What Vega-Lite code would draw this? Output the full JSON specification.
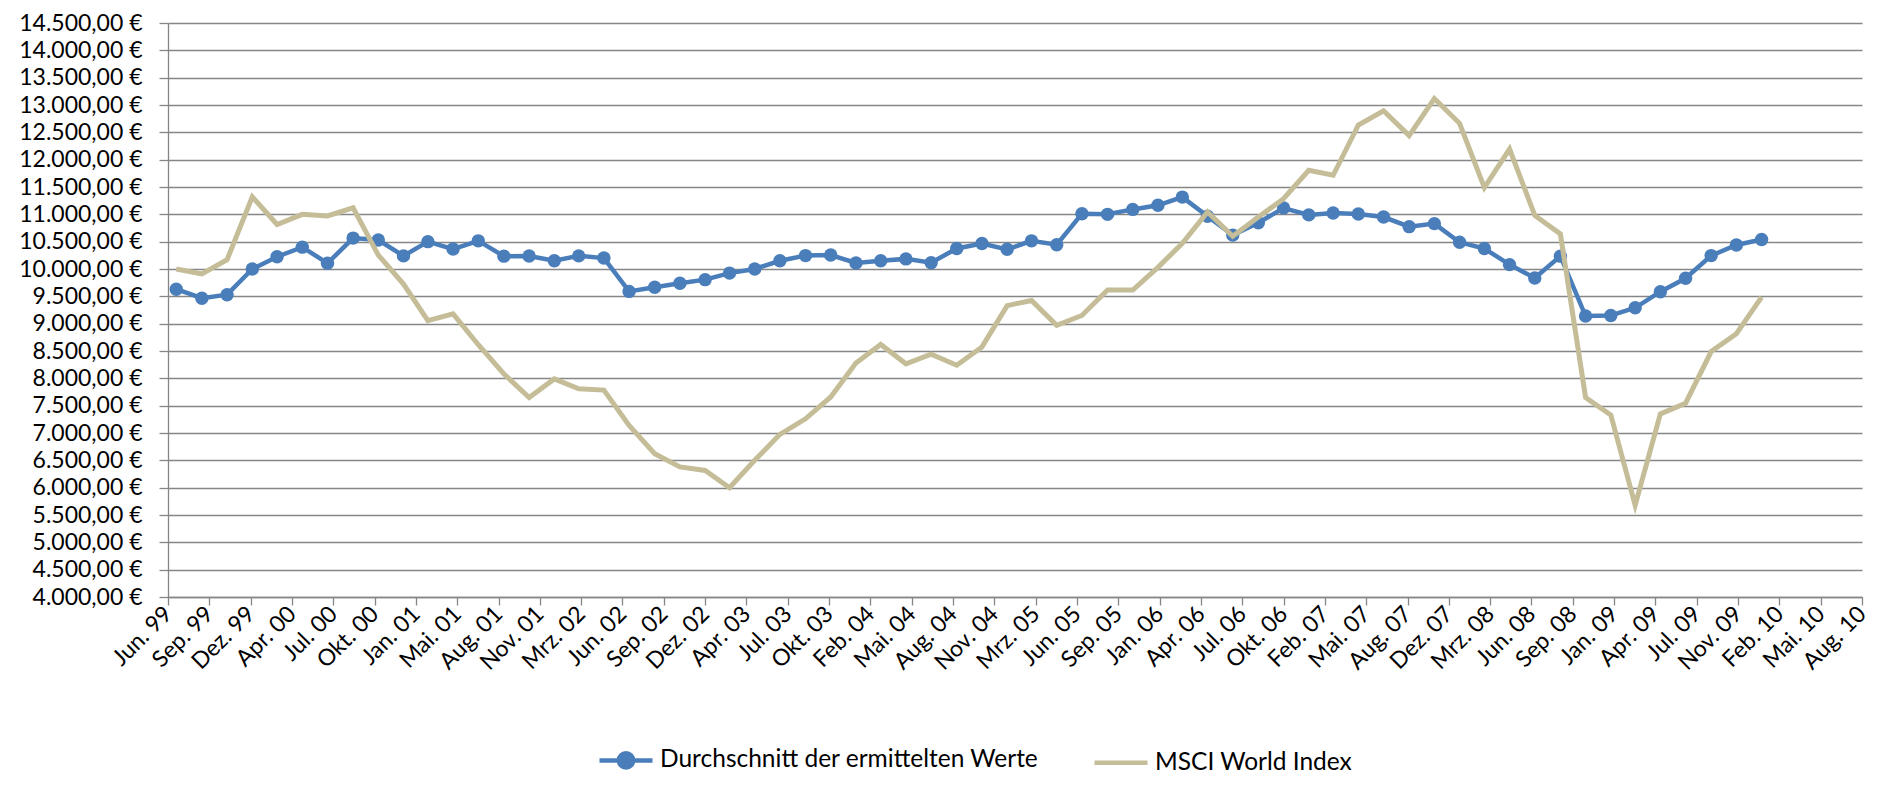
{
  "$schema": "https://vega.github.io/schema/vega-lite/v6.json",
  "width": 1694,
  "height": 574,
  "autosize": {"type": "none"},
  "padding": {"left": 168, "top": 23, "right": 15, "bottom": 197},
  "background": "white",
  "config": {
    "locale": {
      "number": {"decimal": ",", "thousands": ".", "grouping": [3], "currency": ["", " €"]},
      "time": {
        "dateTime": "%A, der %e. %B %Y, %X",
        "date": "%d.%m.%Y",
        "time": "%H:%M:%S",
        "periods": ["AM", "PM"],
        "days": ["Sonntag", "Montag", "Dienstag", "Mittwoch", "Donnerstag", "Freitag", "Samstag"],
        "shortDays": ["So", "Mo", "Di", "Mi", "Do", "Fr", "Sa"],
        "months": ["Januar", "Februar", "März", "April", "Mai", "Juni", "Juli", "August", "September", "Oktober", "November", "Dezember"],
        "shortMonths": ["Jan", "Feb", "Mrz", "Apr", "Mai", "Jun", "Jul", "Aug", "Sep", "Okt", "Nov", "Dez"]
      }
    },
    "view": {"stroke": null},
    "font": "Lato",
    "axis": {
      "labelFont": "Lato",
      "labelFontSize": 23,
      "labelColor": "#000000",
      "domainColor": "#868686",
      "tickColor": "#868686",
      "gridColor": "#868686",
      "domainWidth": 1.3,
      "tickWidth": 1.3,
      "gridWidth": 1.3,
      "labelOverlap": false,
      "labelFlush": false,
      "labelBound": false,
      "title": null
    },
    "axisY": {
      "values": [4000, 4500, 5000, 5500, 6000, 6500, 7000, 7500, 8000, 8500, 9000, 9500, 10000, 10500, 11000, 11500, 12000, 12500, 13000, 13500, 14000, 14500],
      "format": "$,.2f",
      "tickSize": 9,
      "labelPadding": 17,
      "labelOverlap": false,
      "grid": true
    }
  },
  "data": {
    "values": [
      {"d": "1999-06-30", "avg": 9630, "msci": 10000},
      {"d": "1999-08-31", "avg": 9465, "msci": 9910},
      {"d": "1999-10-31", "avg": 9530, "msci": 10170},
      {"d": "1999-12-31", "avg": 10000, "msci": 11320},
      {"d": "2000-02-29", "avg": 10225, "msci": 10815},
      {"d": "2000-04-30", "avg": 10400, "msci": 11000},
      {"d": "2000-06-30", "avg": 10105, "msci": 10970},
      {"d": "2000-08-31", "avg": 10565, "msci": 11120},
      {"d": "2000-10-31", "avg": 10530, "msci": 10255},
      {"d": "2000-12-31", "avg": 10240, "msci": 9725},
      {"d": "2001-02-28", "avg": 10500, "msci": 9055},
      {"d": "2001-04-30", "avg": 10365, "msci": 9180},
      {"d": "2001-06-30", "avg": 10515, "msci": 8615},
      {"d": "2001-08-31", "avg": 10235, "msci": 8080},
      {"d": "2001-10-31", "avg": 10238, "msci": 7650},
      {"d": "2001-12-31", "avg": 10150, "msci": 7990},
      {"d": "2002-02-28", "avg": 10240, "msci": 7810},
      {"d": "2002-04-30", "avg": 10200, "msci": 7785},
      {"d": "2002-06-30", "avg": 9590, "msci": 7140},
      {"d": "2002-08-31", "avg": 9665, "msci": 6620},
      {"d": "2002-10-31", "avg": 9740, "msci": 6380},
      {"d": "2002-12-31", "avg": 9805, "msci": 6315},
      {"d": "2003-02-28", "avg": 9925, "msci": 6000},
      {"d": "2003-04-30", "avg": 10000, "msci": 6500},
      {"d": "2003-06-30", "avg": 10150, "msci": 6975},
      {"d": "2003-08-31", "avg": 10245, "msci": 7260},
      {"d": "2003-10-31", "avg": 10255, "msci": 7660},
      {"d": "2003-12-31", "avg": 10110, "msci": 8280},
      {"d": "2004-02-29", "avg": 10150, "msci": 8620},
      {"d": "2004-04-30", "avg": 10185, "msci": 8265},
      {"d": "2004-06-30", "avg": 10115, "msci": 8440},
      {"d": "2004-08-31", "avg": 10375, "msci": 8240},
      {"d": "2004-10-31", "avg": 10465, "msci": 8575},
      {"d": "2004-12-31", "avg": 10360, "msci": 9330},
      {"d": "2005-02-28", "avg": 10515, "msci": 9425},
      {"d": "2005-04-30", "avg": 10445, "msci": 8970},
      {"d": "2005-06-30", "avg": 11010, "msci": 9150},
      {"d": "2005-08-31", "avg": 11000, "msci": 9615},
      {"d": "2005-10-31", "avg": 11090, "msci": 9615},
      {"d": "2005-12-31", "avg": 11165, "msci": 10030},
      {"d": "2006-02-28", "avg": 11315, "msci": 10470},
      {"d": "2006-04-30", "avg": 10965, "msci": 11045},
      {"d": "2006-06-30", "avg": 10620, "msci": 10600},
      {"d": "2006-08-31", "avg": 10845, "msci": 10950},
      {"d": "2006-10-31", "avg": 11115, "msci": 11285},
      {"d": "2006-12-31", "avg": 10990, "msci": 11805},
      {"d": "2007-02-28", "avg": 11025, "msci": 11715},
      {"d": "2007-04-30", "avg": 11005, "msci": 12635},
      {"d": "2007-06-30", "avg": 10950, "msci": 12895},
      {"d": "2007-08-31", "avg": 10775, "msci": 12440},
      {"d": "2007-10-31", "avg": 10830, "msci": 13115},
      {"d": "2007-12-31", "avg": 10490, "msci": 12665},
      {"d": "2008-02-29", "avg": 10375, "msci": 11490},
      {"d": "2008-04-30", "avg": 10080, "msci": 12195},
      {"d": "2008-06-30", "avg": 9835, "msci": 10980},
      {"d": "2008-08-31", "avg": 10235, "msci": 10640},
      {"d": "2008-10-31", "avg": 9140, "msci": 7650},
      {"d": "2008-12-31", "avg": 9150, "msci": 7330},
      {"d": "2009-02-28", "avg": 9290, "msci": 5680},
      {"d": "2009-04-30", "avg": 9585, "msci": 7350},
      {"d": "2009-06-30", "avg": 9830, "msci": 7545},
      {"d": "2009-08-31", "avg": 10245, "msci": 8490},
      {"d": "2009-10-31", "avg": 10440, "msci": 8815},
      {"d": "2009-12-31", "avg": 10540, "msci": 9485}
    ]
  },
  "encoding": {
    "x": {
      "field": "d",
      "type": "temporal",
      "scale": {
        "type": "utc",
        "domain": [
          {"year": 1999, "month": 6, "date": 10, "utc": true},
          {"year": 2010, "month": 8, "date": 31, "utc": true}
        ]
      },
      "axis": {
        "values": [
          {"year": 1999, "month": 6, "date": 10, "utc": true},
          {"year": 1999, "month": 9, "date": 18, "utc": true},
          {"year": 1999, "month": 12, "date": 27, "utc": true},
          {"year": 2000, "month": 4, "date": 5, "utc": true},
          {"year": 2000, "month": 7, "date": 14, "utc": true},
          {"year": 2000, "month": 10, "date": 22, "utc": true},
          {"year": 2001, "month": 1, "date": 30, "utc": true},
          {"year": 2001, "month": 5, "date": 10, "utc": true},
          {"year": 2001, "month": 8, "date": 18, "utc": true},
          {"year": 2001, "month": 11, "date": 26, "utc": true},
          {"year": 2002, "month": 3, "date": 6, "utc": true},
          {"year": 2002, "month": 6, "date": 14, "utc": true},
          {"year": 2002, "month": 9, "date": 22, "utc": true},
          {"year": 2002, "month": 12, "date": 31, "utc": true},
          {"year": 2003, "month": 4, "date": 10, "utc": true},
          {"year": 2003, "month": 7, "date": 19, "utc": true},
          {"year": 2003, "month": 10, "date": 27, "utc": true},
          {"year": 2004, "month": 2, "date": 4, "utc": true},
          {"year": 2004, "month": 5, "date": 14, "utc": true},
          {"year": 2004, "month": 8, "date": 22, "utc": true},
          {"year": 2004, "month": 11, "date": 30, "utc": true},
          {"year": 2005, "month": 3, "date": 10, "utc": true},
          {"year": 2005, "month": 6, "date": 18, "utc": true},
          {"year": 2005, "month": 9, "date": 26, "utc": true},
          {"year": 2006, "month": 1, "date": 4, "utc": true},
          {"year": 2006, "month": 4, "date": 14, "utc": true},
          {"year": 2006, "month": 7, "date": 23, "utc": true},
          {"year": 2006, "month": 10, "date": 31, "utc": true},
          {"year": 2007, "month": 2, "date": 8, "utc": true},
          {"year": 2007, "month": 5, "date": 19, "utc": true},
          {"year": 2007, "month": 8, "date": 27, "utc": true},
          {"year": 2007, "month": 12, "date": 5, "utc": true},
          {"year": 2008, "month": 3, "date": 14, "utc": true},
          {"year": 2008, "month": 6, "date": 22, "utc": true},
          {"year": 2008, "month": 9, "date": 30, "utc": true},
          {"year": 2009, "month": 1, "date": 8, "utc": true},
          {"year": 2009, "month": 4, "date": 18, "utc": true},
          {"year": 2009, "month": 7, "date": 27, "utc": true},
          {"year": 2009, "month": 11, "date": 4, "utc": true},
          {"year": 2010, "month": 2, "date": 12, "utc": true},
          {"year": 2010, "month": 5, "date": 23, "utc": true},
          {"year": 2010, "month": 8, "date": 31, "utc": true}
        ],
        "format": "%b. %y",
        "labelAngle": -45,
        "labelAlign": "right",
        "labelBaseline": "middle",
        "labelPadding": 5,
        "tickSize": 8,
        "grid": false
      }
    }
  },
  "layer": [
    {
      "mark": {"type": "line", "strokeWidth": 4.5, "clip": false},
      "encoding": {
        "y": {
          "field": "avg",
          "type": "quantitative",
          "scale": {"domain": [4000, 14500], "nice": false, "zero": false}
        },
        "color": {
          "datum": "Durchschnitt der ermittelten Werte",
          "type": "nominal",
          "scale": {
            "domain": ["Durchschnitt der ermittelten Werte", "MSCI World Index"],
            "range": ["#4A7EBB", "#C4BD97"]
          },
          "legend": {
            "orient": "none",
            "legendX": 429,
            "legendY": 708,
            "direction": "horizontal",
            "title": null,
            "padding": 0,
            "labelFont": "Lato",
            "labelFontSize": 24.5,
            "labelColor": "#000000",
            "labelLimit": 1000,
            "labelOffset": 5,
            "columnPadding": 46,
            "symbolSize": 2809,
            "symbolStrokeWidth": 4.5,
            "symbolType": "stroke",
            "encode": {
              "symbols": {
                "update": {
                  "shape": {"signal": "datum.value === 'Durchschnitt der ermittelten Werte' ? 'M-1,0H1M0.27,0A0.27,0.27,0,1,1,-0.27,0A0.27,0.27,0,1,1,0.27,0Z' : 'M-1,0H1'"},
                  "fill": {"signal": "datum.value === 'Durchschnitt der ermittelten Werte' ? '#4A7EBB' : 'transparent'"}
                }
              }
            }
          }
        }
      }
    },
    {
      "mark": {"type": "point", "filled": true, "size": 180, "opacity": 1, "color": "#4A7EBB"},
      "encoding": {
        "y": {"field": "avg", "type": "quantitative"}
      }
    },
    {
      "mark": {"type": "line", "strokeWidth": 5},
      "encoding": {
        "y": {"field": "msci", "type": "quantitative"},
        "color": {"datum": "MSCI World Index", "type": "nominal"}
      }
    }
  ]
}
